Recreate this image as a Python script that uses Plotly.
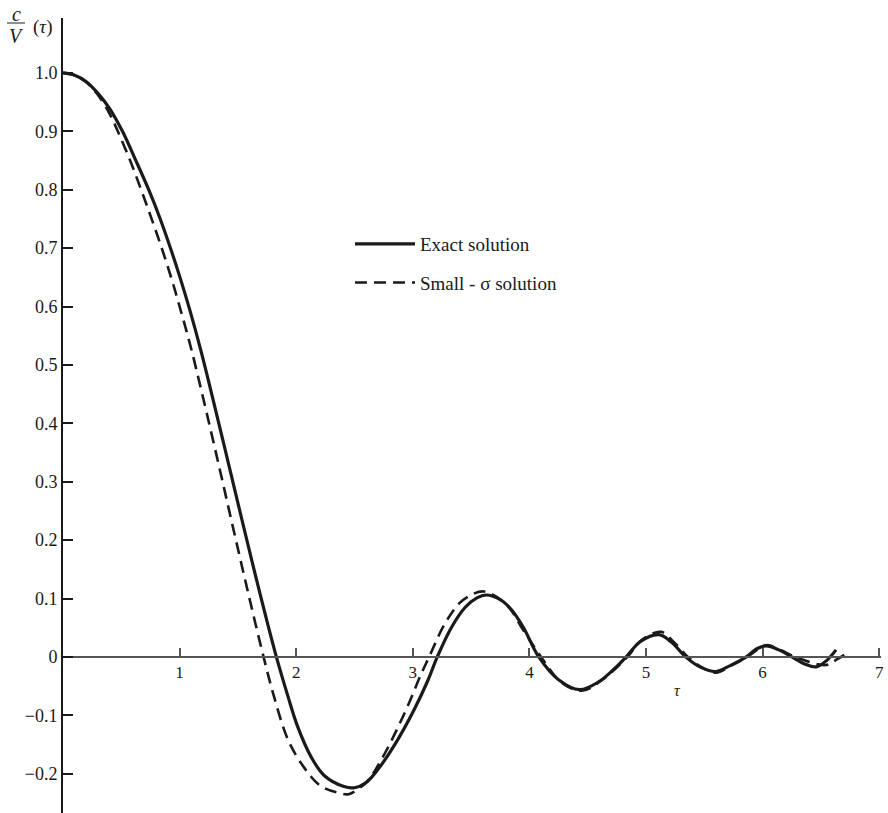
import plotly.graph_objects as go

# ---- data ----
tau_exact = [0, 0.1, 0.2, 0.3, 0.4, 0.51, 0.62, 0.735, 0.83, 0.93, 1.0, 1.086, 1.186,
             1.3, 1.43, 1.55, 1.69, 1.83, 1.93, 2.01, 2.13, 2.24, 2.41, 2.5, 2.6, 2.7,
             2.87, 3.01, 3.13, 3.21, 3.33, 3.45, 3.55, 3.63, 3.75, 3.85, 3.95, 4.08, 4.25,
             4.43, 4.6, 4.72, 4.83, 4.95, 5.11, 5.22, 5.34, 5.47, 5.6, 5.73, 5.86,
             5.95, 6.03, 6.14, 6.25, 6.36, 6.46, 6.55, 6.63]
val_exact = [1.0, 0.996, 0.985, 0.965, 0.939, 0.9, 0.852, 0.8, 0.752, 0.695, 0.652, 0.595,
             0.522, 0.43, 0.322, 0.222, 0.108, 0.0, -0.068, -0.118, -0.172, -0.203, -0.222,
             -0.224, -0.215, -0.193, -0.142, -0.091, -0.04, 0.0, 0.05, 0.085, 0.101, 0.106,
             0.098, 0.08, 0.05, 0.0, -0.039, -0.056, -0.042, -0.022, 0.0, 0.026, 0.038,
             0.025, 0.0, -0.018, -0.025, -0.014, 0.0, 0.014, 0.019, 0.012, 0.0, -0.012,
             -0.017, -0.006, 0.012]

tau_small = [0, 0.1, 0.2, 0.3, 0.4, 0.47, 0.57, 0.67, 0.76, 0.85, 0.93, 1.0, 1.09, 1.2,
             1.34, 1.46, 1.59, 1.72, 1.81, 1.93, 2.07, 2.21, 2.39, 2.45, 2.6, 2.73, 2.93,
             3.07, 3.14, 3.27, 3.4, 3.5, 3.61, 3.8, 3.95, 4.1, 4.27, 4.45, 4.62, 4.84, 4.97,
             5.13, 5.24, 5.36, 5.48, 5.6, 5.73, 5.87, 6.03, 6.15, 6.28, 6.54, 6.64, 6.74]
val_small = [1.0, 0.996, 0.984, 0.962, 0.93, 0.9, 0.853, 0.8, 0.75, 0.698, 0.648, 0.6,
             0.535, 0.445, 0.325, 0.22, 0.108, 0.0, -0.068, -0.142, -0.19, -0.221, -0.234,
             -0.235, -0.215, -0.176, -0.096, -0.03, 0.0, 0.055, 0.092, 0.106, 0.112, 0.09,
             0.045, 0.0, -0.043, -0.058, -0.04, 0.0, 0.03, 0.043, 0.025, 0.0, -0.018,
             -0.027, -0.015, 0.0, 0.02, 0.012, 0.0, -0.014, -0.004, 0.009]

series_names = ["Exact solution", "Small - σ solution"]
x_ticks = [1, 2, 3, 4, 5, 6, 7]
y_ticks = [1.0, 0.9, 0.8, 0.7, 0.6, 0.5, 0.4, 0.3, 0.2, 0.1, 0.0, -0.1, -0.2]
y_ticktext = ["1.0", "0.9", "0.8", "0.7", "0.6", "0.5", "0.4", "0.3", "0.2", "0.1", "0",
              "−0.1", "−0.2"]

# ---- layout geometry (page pixels; body margin removed) ----
W, H = 888, 813
ML, MR, MT, MB = 63, 7, 18, 0
PX_PER_X = 116.6
PX_PER_Y = 584.0
PW = W - ML - MR
PH = H - MT - MB
XR = [0, PW / PX_PER_X]
YR = [1.094 - PH / PX_PER_Y, 1.094]


def px_x(p):
    return (p - ML) / PW


def px_y(p):
    return 1 - (p - MT) / PH


FONT = "Liberation Serif, Times New Roman, serif"
INK = "#1a1a1a"

fig = go.Figure()
fig.add_trace(go.Scatter(x=tau_exact, y=val_exact, mode="lines", name=series_names[0],
                         legendgroup="a",
                         line=dict(color=INK, width=3.2, shape="spline", smoothing=1.0)))
fig.add_trace(go.Scatter(x=tau_small, y=val_small, mode="lines", name=series_names[1],
                         legendgroup="b",
                         line=dict(color=INK, width=2.6, dash="12px,7px", shape="spline",
                                   smoothing=1.0)))

zero_pos = (0 - YR[0]) / (YR[1] - YR[0])

fig.update_layout(
    width=W, height=H,
    margin=dict(l=ML, r=MR, t=MT, b=MB, pad=0, autoexpand=False),
    paper_bgcolor="white", plot_bgcolor="white",
    font=dict(family=FONT, size=16, color=INK),
    showlegend=True,
    legend=dict(x=px_x(350), y=px_y(225), xanchor="left", yanchor="top",
                bgcolor="rgba(0,0,0,0)", itemwidth=60, tracegroupgap=11,
                font=dict(family=FONT, size=19, color=INK)),
    xaxis=dict(range=XR, anchor="free", position=zero_pos, showline=True,
               linecolor="#555", linewidth=1.5, showgrid=False, zeroline=False,
               automargin=False, ticklabeloverflow="allow",
               ticks="inside", ticklen=8, tickwidth=1.5, tickcolor="#555",
               tickvals=x_ticks, ticktext=[str(v) for v in x_ticks],
               tickfont=dict(family=FONT, size=17, color=INK)),
    yaxis=dict(range=YR, showline=True, linecolor=INK, linewidth=2,
               showgrid=False, zeroline=False, automargin=False,
               ticks="inside", ticklen=10, tickwidth=2, tickcolor=INK,
               tickvals=y_ticks, ticktext=y_ticktext,
               tickfont=dict(family=FONT, size=18, color=INK)),
)

ann = dict(xref="paper", yref="paper", showarrow=False)
fig.add_annotation(x=px_x(16), y=px_y(14), text="<i>c</i>", xanchor="center",
                   yanchor="middle", font=dict(family=FONT, color=INK, size=20), **ann)
fig.add_annotation(x=px_x(16), y=px_y(36), text="<i>V</i>", xanchor="center",
                   yanchor="middle", font=dict(family=FONT, color=INK, size=20), **ann)
fig.add_annotation(x=px_x(42), y=px_y(27), text="(<i>τ</i>)", xanchor="center",
                   yanchor="middle", font=dict(family=FONT, color=INK, size=19), **ann)
fig.add_annotation(x=px_x(677), y=px_y(690), text="<i>τ</i>", xanchor="center",
                   yanchor="middle", font=dict(family=FONT, color=INK, size=16), **ann)
fig.add_shape(type="line", xref="paper", yref="paper", x0=px_x(7), x1=px_x(25),
              y0=px_y(23), y1=px_y(23), line=dict(color=INK, width=1))

fig.write_html("out.html",
               config={"displayModeBar": False},
               post_script="document.body.style.margin='0';"
                           "document.body.style.overflow='hidden';")
